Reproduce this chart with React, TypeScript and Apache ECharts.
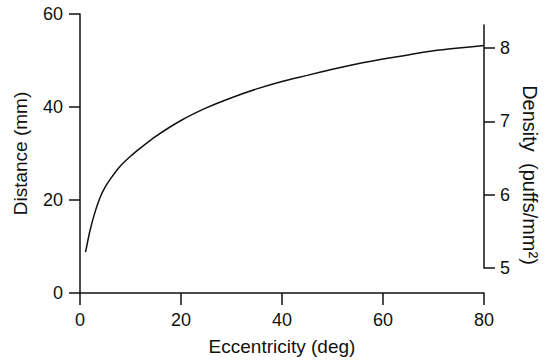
import React, { useEffect, useRef } from "react";
import * as echarts from "echarts";

const eccentricity = [1.1, 2, 3, 4, 5, 6, 8, 10, 12, 15, 20, 25, 30, 35, 40, 45, 50, 55, 60, 65, 70, 75, 80];
const distance = [8.8, 13.5, 17.5, 20.6, 22.8, 24.5, 27.3, 29.4, 31.2, 33.7, 37.1, 39.8, 42.0, 43.9, 45.5, 46.8, 48.1, 49.3, 50.3, 51.2, 52.1, 52.7, 53.2];
const densityTicks = [5, 6, 7, 8];

const FONT = "Liberation Sans, Arial, Helvetica, sans-serif";
const INK = "#111";

export default function App() {
  const ref = useRef<HTMLDivElement>(null);
  useEffect(() => {
    if (!ref.current) return;
    const chart = echarts.init(ref.current, undefined, { renderer: "svg" });
    const axisLine = { show: true, onZero: false, lineStyle: { color: INK, width: 1.5 } };
    const label = { color: INK, fontSize: 18, fontFamily: FONT };
    const nameStyle = { color: INK, fontSize: 19, fontFamily: FONT };
    chart.setOption({
      animation: false,
      backgroundColor: "#fff",
      grid: [
        { left: 80, right: 69, top: 14, height: 279 },
        { left: 80, right: 69, top: 25, height: 243 },
      ],
      xAxis: [
        {
          type: "value",
          gridIndex: 0,
          min: 0,
          max: 80,
          interval: 20,
          axisLine,
          axisTick: { show: true, length: 12, lineStyle: { color: INK, width: 1.5 } },
          axisLabel: { ...label, margin: 18 },
          splitLine: { show: false },
          name: "Eccentricity (deg)",
          nameLocation: "middle",
          nameGap: 44,
          nameTextStyle: nameStyle,
        },
        {
          type: "value",
          gridIndex: 1,
          min: 0,
          max: 80,
          show: false,
        },
      ],
      yAxis: [
        {
          type: "value",
          gridIndex: 0,
          position: "left",
          min: 0,
          max: 60,
          interval: 20,
          axisLine,
          axisTick: { show: true, length: 11, lineStyle: { color: INK, width: 1.5 } },
          axisLabel: { ...label, margin: 17 },
          splitLine: { show: false },
          name: "Distance (mm)",
          nameLocation: "middle",
          nameGap: 50,
          nameTextStyle: nameStyle,
        },
        {
          type: "value",
          gridIndex: 1,
          position: "right",
          min: 5,
          max: 8.315,
          interval: 1,
          axisLine,
          axisTick: { show: true, length: 11, customValues: densityTicks, lineStyle: { color: INK, width: 1.5 } },
          axisLabel: { ...label, margin: 16, customValues: densityTicks },
          splitLine: { show: false },
        },
      ],
      graphic: [
        {
          type: "text",
          x: 530,
          y: 175,
          rotation: -Math.PI / 2,
          style: {
            text: "Density  (puffs/mm²)",
            fontSize: 20,
            fontFamily: FONT,
            fill: INK,
            align: "center",
            verticalAlign: "middle",
          },
        },
      ],
      series: [
        {
          type: "line",
          xAxisIndex: 0,
          yAxisIndex: 0,
          data: eccentricity.map((x, i) => [x, distance[i]]),
          smooth: 0.3,
          showSymbol: false,
          lineStyle: { color: INK, width: 1.5 },
        },
      ],
    });
    return () => chart.dispose();
  }, []);
  return <div ref={ref} style={{ position: "fixed", left: 0, top: 0, width: 553, height: 362 }} />;
}
